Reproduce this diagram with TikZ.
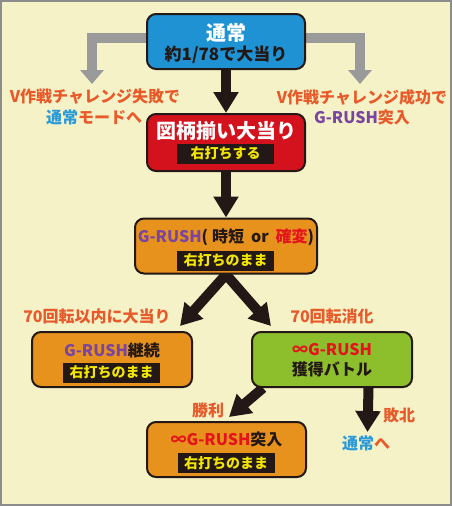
\documentclass[tikz,border=0pt]{standalone}
\usepackage{fontspec}
\setmainfont{Noto Sans CJK JP}
\usetikzlibrary{arrows.meta}
\definecolor{bgcream}{HTML}{F5F2C8}
\definecolor{framegray}{HTML}{8C8C8C}
\definecolor{arrowgray}{HTML}{9A9A9A}
\definecolor{inkdark}{HTML}{231815}
\definecolor{boxblue}{HTML}{1E92D3}
\definecolor{boxred}{HTML}{D4121E}
\definecolor{boxorange}{HTML}{E8921E}
\definecolor{boxgreen}{HTML}{8DBE2C}
\definecolor{labelred}{HTML}{E85A2A}
\definecolor{normalblue}{HTML}{2A9AD8}
\definecolor{rushpurple}{HTML}{7A45A0}
\definecolor{hotred}{HTML}{E3141B}
\definecolor{tagyellow}{HTML}{F2E600}
\pgfdeclarelayer{bg}
\pgfsetlayers{bg,main}

\begin{document}
\begin{tikzpicture}[x=1pt,y=1pt,
  box/.style={draw=inkdark,line width=2pt,rounded corners=9pt,minimum width=158pt,minimum height=55pt},
  big/.style={font=\bfseries\fontsize{20}{20}\selectfont},
  mid/.style={text=inkdark,font=\bfseries\fontsize{16}{16}\selectfont},
  tag/.style={fill=inkdark,text=tagyellow,minimum width=97pt,minimum height=20pt,font=\bfseries\fontsize{14}{14}\selectfont},
  lbl/.style={text=labelred,font=\bfseries\fontsize{16}{16}\selectfont},
  blkarrow/.style={draw=inkdark,line width=10pt,-{Triangle[width=24pt,length=21pt]}},
  grayarrow/.style={draw=arrowgray,line width=10pt,-{Triangle[width=23pt,length=14pt]}}]
\tikzstyle{every node}+=[inner sep=0pt]

\begin{pgfonlayer}{bg}
\fill [bgcream] (0,0) rectangle (452,-506);
\end{pgfonlayer}
\draw [framegray,line width=2pt] (1,-1) rectangle (451,-505);

\node [box,fill=boxblue] (normal) at (226,-41.5) {};
\node [big,text=white] (normaltitle) at (226,-32.5) {通常};
\node [mid,font=\bfseries\fontsize{17}{17}\selectfont] (normalodds) at (226,-55) {約1/78で大当り};

\node [box,fill=boxred,minimum height=57pt] (jackpot) at (226,-142.5) {};
\node [big,text=white] (jackpottitle) at (226,-131) {図柄揃い大当り};
\node [tag] (jackpottag) at (225.5,-153.5) {右打ちする};

\node [box,fill=boxorange,minimum width=182pt] (rush) at (226,-246) {};
\node [mid] (rushtitle) at (226,-237) {\textcolor{rushpurple}{G-RUSH}(\hspace{4pt}時短\hspace{7pt}or\hspace{7pt}\textcolor{hotred}{確変})};
\node [tag] (rushtag) at (225.5,-260.5) {右打ちのまま};

\node [box,fill=boxorange,minimum width=160pt] (keep) at (112,-359.5) {};
\node [mid] (keeptitle) at (112,-350) {\textcolor{rushpurple}{G-RUSH}継続};
\node [tag] (keeptag) at (111.5,-372.5) {右打ちのまま};

\node [box,fill=boxgreen,minimum width=160pt] (battle) at (332,-359.5) {};
\node [mid,text=hotred] (battletitle) at (332,-350) {∞G-RUSH};
\node [mid] (battlename) at (332,-369) {獲得バトル};

\node [box,fill=boxorange,minimum width=159pt] (win) at (226.5,-449.5) {};
\node [mid] (wintitle) at (226.5,-439) {\textcolor{hotred}{∞G-RUSH}突入};
\node [tag] (wintag) at (226,-463) {右打ちのまま};

\node [lbl] (faillabel) at (95,-97) {V作戦チャレンジ失敗で};
\node [lbl] (failnote) at (94,-117) {\textcolor{normalblue}{通常}モードへ};
\node [lbl] (oklabel) at (362,-97) {V作戦チャレンジ成功で};
\node [lbl] (oknote) at (362,-117) {\textcolor{rushpurple}{G-RUSH}突入};
\node [lbl] (withinlabel) at (97,-316) {70回転以内に大当り};
\node [lbl] (spentlabel) at (332,-316) {70回転消化};
\node [lbl] (winlabel) at (208,-410) {勝利};
\node [lbl] (loselabel) at (399,-415) {敗北};
\node [lbl] (backlabel) at (366,-443) {\textcolor{normalblue}{通常}へ};

\coordinate (failend) at (92,-84);
\coordinate (okend) at (360,-84);
\coordinate (loseend) at (367.5,-432);

\begin{pgfonlayer}{bg}
\draw [grayarrow] ([yshift=3.5pt]normal.west) -| (failend);
\draw [grayarrow] ([yshift=3.5pt]normal.east) -| (okend);
\draw [blkarrow] (normal) -- (jackpot);
\draw [blkarrow] (jackpot) -- (rush);
\draw [blkarrow] (rush.south) -- ([xshift=-13pt,yshift=5pt]keep.north east);
\draw [blkarrow] (rush.south) -- ([xshift=20pt,yshift=5pt]battle.north west);
\draw [blkarrow] ([xshift=12pt]battle.south west) -- ([xshift=83pt,yshift=4pt]win.north west);
\draw [blkarrow] ([xshift=-44.5pt]battle.south east) -- (loseend);
\end{pgfonlayer}
\end{tikzpicture}
\end{document}
